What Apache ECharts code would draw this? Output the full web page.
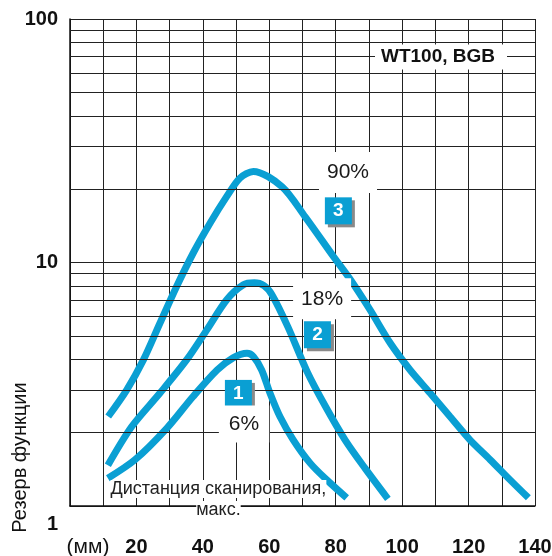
<!DOCTYPE html>
<html>
<head>
<meta charset="utf-8">
<script src="https://cdn.jsdelivr.net/npm/echarts@6/dist/echarts.min.js"></script>
<style>html,body{margin:0;padding:0;background:#fff;}#c{width:552px;height:556px;}</style>
</head>
<body>
<div id="c"></div>
<script>
// Curve data: [distance mm, function reserve]
const curve1X = [11.4, 19.6, 29.2, 37.0, 44.3, 49.1, 53.3, 55.2, 57.7, 60.2, 63.2, 67.2, 72.3, 77.3, 83.3];
const curve1Y = [1.30, 1.55, 2.09, 2.81, 3.62, 4.06, 4.24, 4.11, 3.62, 2.91, 2.33, 1.87, 1.50, 1.28, 1.08];
const curve2X = [11.4, 18.6, 27.1, 35.1, 41.2, 47.2, 52.2, 55.5, 58.4, 60.8, 65.6, 71.4, 76.8, 82.8, 88.8, 95.7];
const curve2Y = [1.47, 2.12, 2.91, 3.98, 5.29, 7.03, 8.10, 8.25, 8.03, 7.37, 5.44, 3.56, 2.58, 1.87, 1.43, 1.07];
const curve3X = [11.5, 17.1, 22.1, 27.1, 32.1, 37.1, 42.2, 47.2, 51.2, 55.2, 63.8, 70.8, 79.3, 84.3, 90.3, 96.4, 102.4, 108.4, 114.4, 120.4, 126.5, 132.5, 138.0];
const curve3Y = [2.33, 3.00, 3.98, 5.64, 7.97, 10.94, 14.53, 18.68, 22.24, 23.67, 20.5, 15.4, 10.59, 8.55, 6.40, 4.67, 3.62, 2.91, 2.33, 1.87, 1.55, 1.28, 1.08];
const curveIds = ['1', '2', '3'];
const reflectance = ['6%', '18%', '90%'];
const xTicks = [20, 40, 60, 80, 100, 120, 140];
const yTicks = [1, 10, 100];
const yMinorGrid = [2, 3, 4, 5, 6, 7, 8, 9, 20, 30, 40, 50, 60, 70, 80, 90];
const sensorTitle = 'WT100, BGB';
const xAxisUnit = '(мм)';
const yAxisTitle = 'Резерв функции';
const distanceNote = ['Дистанция сканирования,', 'макс.'];

const BLUE = '#0a9fd3';
const GRID = '#222';
const FONT = 'Liberation Sans';

function zip(xs, ys) { return xs.map((x, i) => [x, ys[i]]); }
const curves = [zip(curve1X, curve1Y), zip(curve2X, curve2Y), zip(curve3X, curve3Y)];

const boxLabel = {
  show: true, position: 'inside', color: '#fff', fontFamily: FONT, fontWeight: 'bold', fontSize: 19, opacity: 1,
  backgroundColor: BLUE, width: 27, height: 27, lineHeight: 27, align: 'center', verticalAlign: 'middle',
  shadowColor: '#8a8a8a', shadowOffsetX: 3, shadowOffsetY: 3, shadowBlur: 0
};
const pctLabel = {
  show: true, position: 'inside', color: '#1a1a1a', fontFamily: FONT, fontSize: 21, opacity: 1,
  backgroundColor: '#fff', padding: [10, 6, 10, 6]
};

const annotations = [
  { value: [50.7, 2.90], label: Object.assign({}, boxLabel, { formatter: curveIds[0] }) },
  { value: [74.5, 5.05], label: Object.assign({}, boxLabel, { formatter: curveIds[1] }) },
  { value: [80.8, 16.3], label: Object.assign({}, boxLabel, { formatter: curveIds[2] }) },
  { value: [52.4, 2.17], label: Object.assign({}, pctLabel, { formatter: reflectance[0], padding: [8, 10, 8, 10] }) },
  { value: [75.9, 7.10], label: Object.assign({}, pctLabel, { formatter: reflectance[1], padding: [10, 8, 10, 8] }) },
  { value: [83.7, 23.4], label: Object.assign({}, pctLabel, { formatter: reflectance[2], padding: [10, 8, 10, 8] }) },
  { value: [111.7, 69.8], label: { show: true, position: 'inside', formatter: sensorTitle, color: '#111', opacity: 1,
      fontFamily: FONT, fontWeight: 'bold', fontSize: 19, backgroundColor: '#fff', padding: [3, 12, 3, 6] } },
  { value: [44.7, 1.063], label: { show: true, position: 'inside', opacity: 1,
      formatter: '{a|' + distanceNote[0] + '}\n{b|' + distanceNote[1] + '}',
      rich: {
        a: { fontFamily: FONT, fontSize: 18, color: '#222', backgroundColor: '#fff', lineHeight: 21, align: 'center' },
        b: { fontFamily: FONT, fontSize: 18, color: '#222', backgroundColor: '#fff', lineHeight: 21, align: 'center' }
      } } }
];

const chart = echarts.init(document.getElementById('c'), null, { renderer: 'canvas' });
chart.setOption({
  animation: false,
  backgroundColor: '#fff',
  grid: { left: 70, right: 17, top: 19, bottom: 50, containLabel: false, outerBoundsMode: 'none' },
  xAxis: {
    type: 'value', min: 0, max: 140, interval: 10,
    axisLine: { show: true, lineStyle: { color: '#111', width: 1.5 } },
    axisTick: { show: false },
    splitLine: { show: true, lineStyle: { color: GRID, width: 1 } },
    axisLabel: {
      margin: 31, color: '#111', fontFamily: FONT, fontWeight: 'bold', fontSize: 20,
      showMinLabel: true, showMaxLabel: true, hideOverlap: false,
      formatter: function (v) {
        if (v === 0) return '{u|' + xAxisUnit + '}';
        return xTicks.indexOf(v) >= 0 ? String(v) : '';
      },
      rich: { u: { fontFamily: FONT, fontWeight: 'normal', fontSize: 21, color: '#111', padding: [0, 0, 0, 36] } }
    }
  },
  yAxis: {
    type: 'log', logBase: 10, min: 1, max: 100,
    name: yAxisTitle, nameLocation: 'middle', nameRotate: 90, nameGap: 40, nameMoveOverlap: false,
    nameTextStyle: { fontFamily: FONT, fontSize: 20, color: '#111', padding: [0, 390, 0, 0] },
    axisLine: { show: true, lineStyle: { color: '#111', width: 1.5 } },
    axisTick: { show: false },
    splitLine: { show: true, lineStyle: { color: GRID, width: 1 } },
    axisLabel: {
      margin: 12, color: '#111', fontFamily: FONT, fontWeight: 'bold', fontSize: 20,
      showMinLabel: true, showMaxLabel: true,
      formatter: function (v) {
        const r = Math.round(v);
        if (yTicks.indexOf(r) < 0) return '';
        return r === 1 ? '{d|1}' : String(r);
      },
      rich: { d: { fontFamily: FONT, fontWeight: 'bold', fontSize: 20, color: '#111', padding: [36, 0, 0, 0] } }
    }
  },
  series: [
    {
      type: 'line', data: [], z: 1, silent: true,
      markLine: {
        silent: true, symbol: ['none', 'none'], label: { show: false },
        lineStyle: { color: GRID, width: 1, type: 'solid' },
        data: yMinorGrid.map(v => ({ yAxis: v }))
      }
    },
    ...curves.map((d, i) => ({
      type: 'line', name: reflectance[i], data: d, smooth: 0.3, showSymbol: false, z: 3,
      lineStyle: { color: BLUE, width: 7, cap: 'butt' }, clip: false
    })),
    {
      type: 'scatter', data: annotations, symbolSize: 0, itemStyle: { color: 'transparent', opacity: 1 },
      z: 5, clip: false, silent: true
    }
  ]
});
</script>
</body>
</html>
